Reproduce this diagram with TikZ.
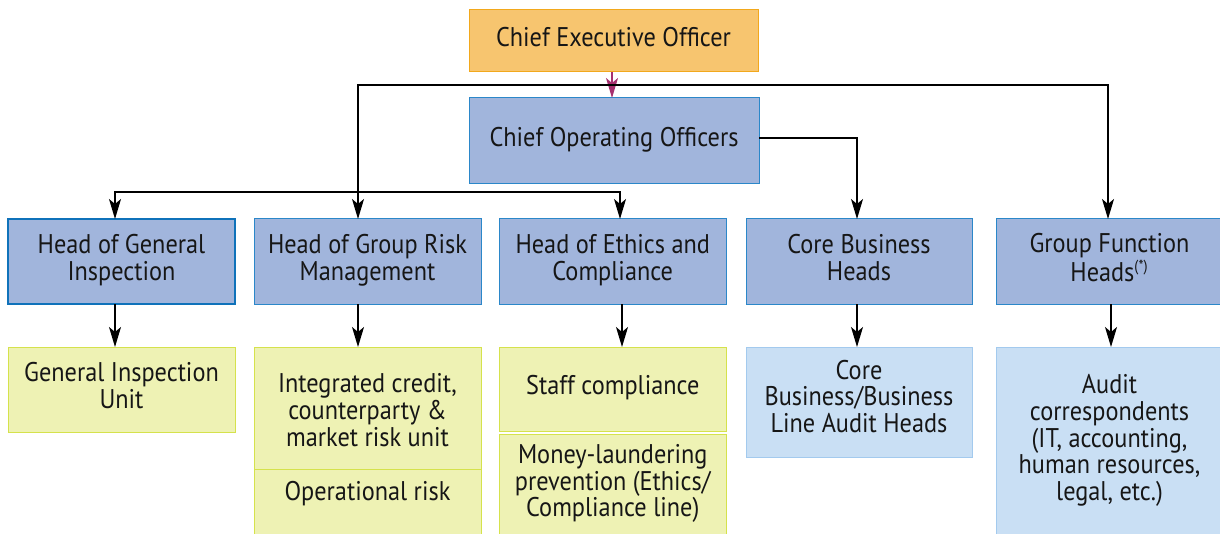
\documentclass[tikz,border=0pt]{standalone}
\usepackage{fontspec}
\setmainfont[FakeStretch=0.9]{PT Sans}
\usetikzlibrary{arrows.meta}
\definecolor{ceofill}{HTML}{F7C56F}
\definecolor{ceodraw}{HTML}{F2A81C}
\definecolor{bluefill}{HTML}{A1B5DC}
\definecolor{bluedraw}{HTML}{2B87C9}
\definecolor{gidraw}{HTML}{0F72BA}
\definecolor{yelfill}{HTML}{EEF2B4}
\definecolor{yeldraw}{HTML}{D5E24C}
\definecolor{lbfill}{HTML}{C9DFF4}
\definecolor{lbdraw}{HTML}{A3CAEE}
\definecolor{magarrow}{HTML}{A6306F}
\definecolor{txt}{HTML}{161616}
\newcommand{\topstrut}{\rule[-4pt]{0pt}{12.5pt}}
\newcommand{\botstrut}{\rule[-4pt]{0pt}{9.3pt}}
\begin{document}
\begin{tikzpicture}[x=0.5pt,y=-0.5pt,
  box/.style={rectangle, draw, line width=0.5pt, inner sep=0pt, outer sep=0pt,
    align=center, text=txt, font=\fontsize{13.5pt}{13.3pt}\selectfont,
    execute at begin node=\topstrut, execute at end node=\botstrut},
  bw/.style={minimum width=#1*0.5pt},
  bh/.style={minimum height=#1*0.5pt},
  ceobox/.style={box, fill=ceofill, draw=ceodraw},
  headbox/.style={box, fill=bluefill, draw=bluedraw},
  unitbox/.style={box, fill=yelfill, draw=yeldraw},
  auditbox/.style={box, fill=lbfill, draw=lbdraw},
  lbl/.style={align=center, text=txt, inner sep=0pt, font=\fontsize{13.5pt}{13.3pt}\selectfont,
    execute at begin node=\topstrut, execute at end node=\botstrut},
  conn/.style={draw=black, line width=0.65pt},
  arr/.style={conn, -{Stealth[length=10pt,width=6pt,inset=2.5pt]}},
  magarr/.style={draw=magarrow, line width=0.6pt, -{Stealth[length=10pt,width=6pt,inset=2.5pt]}}
]
\useasboundingbox (0,0) rectangle (1220,534);

% top row
\node[ceobox, bw=289, bh=62] (ceo) at (613.5,41) {Chief Executive Officer};
\node[headbox, bw=290, bh=86] (coo) at (614,141) {Chief Operating Officers};

% heads row
\node[headbox, draw=gidraw, line width=1pt, bw=227, bh=85] (gi) at (121.5,261.5) {Head of General\\Inspection};
\node[headbox, bw=227, bh=85] (gr) at (367.5,261.5) {Head of Group Risk\\Management};
\node[headbox, bw=227.5, bh=85] (ec) at (612.75,261.5) {Head of Ethics and\\Compliance};
\node[headbox, bw=226, bh=85] (cb) at (859,261.5) {Core Business\\Heads};
\node[headbox, bw=227, bh=85] (gf) at (1109.5,261.5) {Group Function\\Heads\textsuperscript{\fontsize{8pt}{8pt}\selectfont(*)}};

% units row
\node[unitbox, bw=227, bh=85] (giu) at (121.5,389.5) {General Inspection\\Unit};
\node[unitbox, bw=227, bh=122] (icr) at (367.5,408) {};
\node[lbl] (icrt) at (367.5,414) {Integrated credit,\\counterparty \&\\market risk unit};
\node[unitbox, bw=227, bh=81] (opr) at (367.5,509.5) {};
\node[lbl, anchor=base] (oprt) at (367.5,500.5) {Operational risk};
\node[unitbox, bw=227.5, bh=84] (sc) at (612.75,389) {Staff compliance};
\node[unitbox, bw=227.5, bh=101] (ml) at (612.75,484.5) {Money-laundering\\prevention (Ethics/\\Compliance line)};
\node[auditbox, bw=226, bh=110] (cba) at (859,402) {};
\node[lbl] (cbat) at (859,400) {Core\\Business/Business\\Line Audit Heads};
\node[auditbox, bw=227, bh=189] (ac) at (1109.5,441.5) {Audit\\correspondents\\(IT, accounting,\\human resources,\\legal, etc.)};

% arrow columns
\coordinate (cGI) at (115,0);
\coordinate (cGR) at (358,0);
\coordinate (cEC) at (620,0);
\coordinate (cCB) at (857,0);
\coordinate (cGF) at (1108,0);
\coordinate (cEC2) at (622,0);
\coordinate (cGF2) at (1111,0);
\coordinate (topbar) at (612,85);
\coordinate (lowbar) at (612,192);

% connectors
\draw[magarr] (ceo.south -| 612,0) -- (coo.north -| 612,0);
\draw[arr] (topbar) -| (cGR |- gr.north);
\draw[arr] (topbar) -| (cGF |- gf.north);
\draw[arr] ([yshift=1.5pt]coo.east) -| (cCB |- cb.north);
\draw[arr] (lowbar) -| (cGI |- gi.north);
\draw[arr] (lowbar) -| (cEC |- ec.north);

\draw[arr] (cGI |- gi.south) -- (cGI |- giu.north);
\draw[arr] (cGR |- gr.south) -- (cGR |- icr.north);
\draw[arr] (cEC2 |- ec.south) -- (cEC2 |- sc.north);
\draw[arr] (cCB |- cb.south) -- (cCB |- cba.north);
\draw[arr] (cGF2 |- gf.south) -- (cGF2 |- ac.north);
\end{tikzpicture}
\end{document}
